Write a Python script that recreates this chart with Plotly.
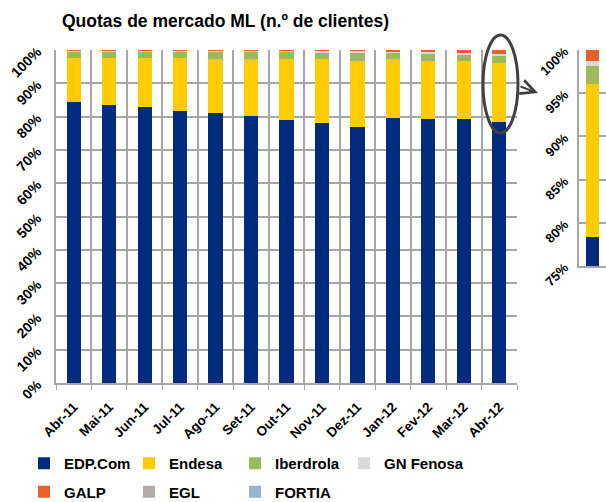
import plotly.graph_objects as go

months = ["Abr-11", "Mai-11", "Jun-11", "Jul-11", "Ago-11", "Set-11", "Out-11",
          "Nov-11", "Dez-11", "Jan-12", "Fev-12", "Mar-12", "Abr-12"]
edp = [84.5, 83.4, 82.8, 81.8, 81.2, 80.2, 79.0, 78.0, 77.0, 79.6, 79.3, 79.3, 78.4]
endesa = [13.2, 14.3, 14.9, 15.9, 16.1, 17.1, 18.3, 19.3, 19.8, 17.7, 17.5, 17.5, 17.7]
iberdrola = [1.8, 1.8, 1.8, 1.8, 2.1, 2.1, 2.1, 2.0, 2.4, 1.9, 2.0, 1.9, 2.1]
gn_fenosa = [0.3, 0.3, 0.3, 0.3, 0.4, 0.4, 0.4, 0.4, 0.5, 0.4, 0.5, 0.5, 0.5]
galp = [0.2, 0.2, 0.2, 0.2, 0.2, 0.2, 0.2, 0.3, 0.3, 0.4, 0.7, 0.8, 1.3]
egl = [0.0] * 13
fortia = [0.0] * 13

y_ticks = list(range(0, 101, 10))
inset_ticks = [75, 80, 85, 90, 95, 100]

# name, values, colour, legend column
series = [
    ("EDP.Com", edp, "#002B7F", "legend"),
    ("Endesa", endesa, "#FFCC00", "legend2"),
    ("Iberdrola", iberdrola, "#9BBB59", "legend3"),
    ("GN Fenosa", gn_fenosa, "#D9D9D9", "legend4"),
    ("GALP", galp, "#E8612C", "legend"),
    ("EGL", egl, "#B3AAAA", "legend2"),
    ("FORTIA", fortia, "#95B3D7", "legend3"),
]

FONT = "Liberation Sans, Arial, sans-serif"
x_idx = list(range(len(months)))

W, H = 606, 502
L, R, T, B = 56, 0, 50, 119
PW, PH = W - L - R, H - T - B


def px(x):
    return (x - L) / PW


def py(y):
    return (H - B - y) / PH


fig = go.Figure()
for name, vals, col, lg in series:
    fig.add_trace(go.Bar(
        x=x_idx, y=vals, name="<b>%s</b>" % name,
        marker=dict(color=col, line=dict(width=0)),
        width=0.4, legend=lg, legendgroup=name, xaxis="x", yaxis="y"))
# inset: last month zoomed
for name, vals, col, lg in series:
    fig.add_trace(go.Bar(
        x=[0], y=[vals[-1]], name=name, marker=dict(color=col, line=dict(width=0)),
        width=0.45, showlegend=False, legend=lg, xaxis="x2", yaxis="y2"))

grid = "#A6A6A6"


def legend_at(x_left):
    return dict(orientation="v", xref="container", yref="container",
                x=x_left / W, y=1 - 447 / H, xanchor="left", yanchor="top",
                font=dict(size=15, family=FONT), tracegroupgap=6,
                bgcolor="rgba(0,0,0,0)", traceorder="grouped", itemclick=False)


fig.update_layout(
    width=W, height=H,
    barmode="stack",
    plot_bgcolor="white", paper_bgcolor="white",
    margin=dict(l=L, r=R, t=T, b=B, autoexpand=False),
    font=dict(family=FONT, size=14, color="#000000"),
    title=dict(text="<b>Quotas de mercado ML (n.º de clientes)</b>",
               x=62 / W, xanchor="left", y=1 - 21 / H, yanchor="middle",
               font=dict(size=17.5, family=FONT)),
    xaxis=dict(domain=[0, 461 / PW], range=[-0.5, 12.5],
               tickvals=x_idx, ticktext=["<b>%s</b>" % m for m in months],
               tickangle=-45, showgrid=False, ticks="", ticklabelstandoff=9,
               showline=True, linecolor=grid, linewidth=1.5,
               minor=dict(tick0=-0.5, dtick=1, showgrid=True, gridcolor=grid,
                          gridwidth=1.5, ticks="outside", ticklen=5, tickcolor=grid),
               tickfont=dict(size=13.5), fixedrange=True),
    yaxis=dict(range=[0, 100], tickvals=y_ticks,
               ticktext=["<b>%d%%</b>" % v for v in y_ticks],
               tickangle=-45, showgrid=True, gridcolor=grid, gridwidth=1.5,
               showline=True, linecolor=grid, linewidth=1.5, zeroline=False,
               ticklabelstandoff=14,
               tickfont=dict(size=14), fixedrange=True),
    xaxis2=dict(domain=[px(579), 1], range=[-0.5, 0.5], showticklabels=False,
                showgrid=False, showline=True, linecolor=grid, linewidth=1.5,
                anchor="y2", fixedrange=True),
    yaxis2=dict(domain=[py(266), 1], range=[75, 100], anchor="x2",
                tickvals=inset_ticks, ticktext=["<b>%d%%</b>" % v for v in inset_ticks],
                tickangle=-45, showgrid=True, gridcolor=grid, gridwidth=1.5,
                showline=True, linecolor=grid, linewidth=1.5, zeroline=False,
                ticklabelstandoff=10,
                tickfont=dict(size=13), fixedrange=True),
    legend=legend_at(24),
    legend2=legend_at(129),
    legend3=legend_at(235),
    legend4=legend_at(344),
    showlegend=True,
)

# highlight ellipse around last bar and arrow to the inset
fig.add_shape(type="circle", xref="paper", yref="paper",
              x0=px(483), x1=px(518), y0=py(133), y1=py(35),
              line=dict(color="#404040", width=3))
fig.add_annotation(xref="paper", yref="paper", x=px(538), y=py(93),
                   ax=-19, ay=-7, axref="pixel", ayref="pixel",
                   showarrow=True, arrowhead=5, arrowsize=1.4, arrowwidth=2,
                   arrowcolor="#404040", text="")

fig.write_html("out.html", config={"displayModeBar": False},
               post_script="document.body.style.margin='0';")
